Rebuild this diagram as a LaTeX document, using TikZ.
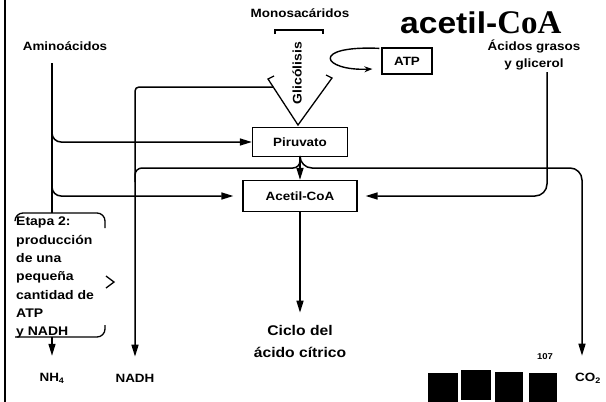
\documentclass[tikz,border=0pt]{standalone}
\usepackage{fontspec}
\usepackage{tikz}
\usetikzlibrary{arrows.meta, positioning}
\newfontfamily\lblfont{Liberation Sans}[FakeStretch=1.12]
\newfontfamily\coafont{Liberation Serif}

\begin{document}
\begin{tikzpicture}[
  x=1pt, y=-1pt,
  lbl/.style={font=\lblfont\bfseries\fontsize{12}{16.5}\selectfont, align=center, inner sep=1pt},
  box/.style={rectangle, draw, line width=1.3pt, font=\lblfont\bfseries\fontsize{12}{14}\selectfont,
              minimum width=95pt, minimum height=29pt, inner sep=2pt},
  plain/.style={line width=1.5pt, rounded corners=9pt},
  flow/.style={plain, -{Triangle[length=12pt,width=7pt]}},
  loopy/.style={line width=1.4pt, -{Stealth[length=8pt,width=6pt]}}
]
\useasboundingbox (0,0) rectangle (606,402);
\draw[line width=1.6pt] (5,0) -- (5,402);

% labels
\node[lbl] (amino) at (65,46) {Aminoácidos};
\node[lbl] (mono) at (300,13) {Monosacáridos};
\node[lbl] (acidos) at (534,55) {Ácidos grasos\\y glicerol};
\node[anchor=base west, inner sep=0pt] (titulo) at (400,33)
  {\lblfont\bfseries\fontsize{30}{30}\selectfont acetil-{\coafont\bfseries\fontsize{33}{33}\selectfont CoA}};
\node[lbl, rotate=90, font=\lblfont\bfseries\fontsize{12.5}{14}\selectfont] (glic) at (297,73) {Glicólisis};

% boxes
\node[box, minimum width=50pt, minimum height=26pt] (atp) at (407,61) {ATP};
\node[box] (piru) at (300,142) {Piruvato};
\node[box, minimum width=114pt, minimum height=31pt] (acetil) at (300,196) {Acetil-CoA};
\node[lbl, anchor=north west, align=left, font=\lblfont\bfseries\fontsize{12.5}{18.3}\selectfont] (etapa) at (15,216)
  {Etapa 2:\\producción\\de una\\pequeña\\cantidad de\\ATP\\y NADH};

% products
\node[lbl, font=\lblfont\bfseries\fontsize{14}{22}\selectfont] (ciclo) at (300,341) {Ciclo del\\ácido cítrico};
\node[lbl] (nadh) at (135,378) {NADH};
\node[lbl] (nh4) at (52,378) {NH\textsubscript{4}};
\node[lbl] (co2) at (588,378) {CO\textsubscript{2}};
\node[lbl, font=\lblfont\bfseries\fontsize{8.5}{10}\selectfont] (num) at (545,357) {107};
\foreach \xa/\ya/\xb/\yb in {428/373/458/402, 461/370/491/400, 495/372/523/402, 529/373/557/402}
  \fill (\xa,\ya) rectangle (\xb,\yb);

% glycolysis arrow
\coordinate (f1) at (275,30);
\coordinate (f2) at (323,30);
\coordinate (ftip) at (298,125);
\draw[line width=1.3pt] ([yshift=-4pt]f1) -- (f1) -- (f2) -- ([yshift=-4pt]f2);
\draw[line width=1.3pt] (274,76) -- (268,79) -- (ftip) -- (332,78) -- (326,75);

% ATP loop
\draw[loopy] ([xshift=-2pt,yshift=-1pt]atp.north west) .. controls +(-70,-3) and +(-50,2) .. ([xshift=-9pt,yshift=-8pt]atp.west);

% amino acids
\coordinate (a0) at (52,63);
\coordinate (a1) at (52,124);
\coordinate (a2) at (52,178);
\coordinate (e0) at (52,213);
\coordinate (e1) at (52,337);
\draw[plain] (a0) -- (e0);
\draw[flow] (a1) |- (piru.west);
\draw[flow, shorten >=9pt] (a2) |- (acetil.west);

% NADH from glycolysis
\coordinate (n0) at (273,87);
\draw[flow, rounded corners=4pt, shorten >=16pt] (n0) -| (nadh.north);

% pyruvate to acetyl-CoA
\coordinate (b1) at (135,168);
\coordinate (c1) at (582,168);
\draw[flow] (piru) -- (acetil);
\draw[plain, rounded corners=7pt] (piru.south) |- (b1) -- ++(0,14);
\draw[flow, rounded corners=12pt, shorten >=16pt] (piru.south) |- (c1) -- (c1 |- co2.north);

% fatty acids
\coordinate (g0) at (547,72);
\draw[flow, rounded corners=12pt, shorten >=8pt] (g0) |- (acetil.east);

% citric acid cycle
\draw[flow, shorten >=11pt] (acetil) -- (ciclo);

% stage 2 bracket
\draw[line width=1.3pt, rounded corners=8pt] (15,220) -- (15,213) -- (105,213) -- (105,228);
\draw[line width=1.3pt, rounded corners=8pt] (15,337) -- (105,337) -- (105,325);
\draw[line width=1.3pt] (106,276) -- (114,282) -- (106,288);
\draw[flow, shorten >=16pt] (e1) -- (nh4.north);
\end{tikzpicture}
\end{document}
